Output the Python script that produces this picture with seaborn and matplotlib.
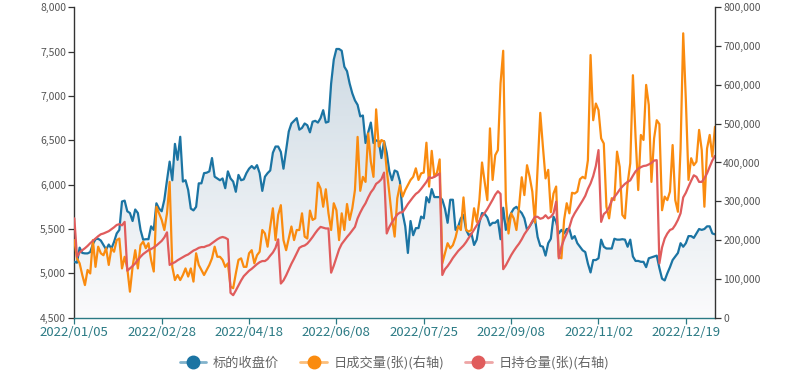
"""Underlying close price vs. daily volume and open interest, 2022."""

import matplotlib

matplotlib.use("Agg")
import matplotlib.pyplot as plt
import numpy as np
import pandas as pd
import seaborn as sns
from matplotlib.colors import LinearSegmentedColormap, to_rgb
from matplotlib.lines import Line2D
from matplotlib.ticker import FuncFormatter


# exchange holidays (weekdays with no trading)
HOLIDAYS = [
    "2022-01-31", "2022-02-01", "2022-02-02", "2022-02-03", "2022-02-04",
    "2022-04-04", "2022-04-05", "2022-05-02", "2022-05-03", "2022-05-04",
    "2022-06-03", "2022-09-12", "2022-10-03", "2022-10-04", "2022-10-05",
    "2022-10-06", "2022-10-07", "2023-01-02",
]

CLOSE = [
    5130, 5120, 5290, 5230, 5225, 5225, 5240, 5330, 5385, 5390,
    5370, 5320, 5270, 5325, 5280, 5355, 5450, 5490, 5810, 5820,
    5700, 5680, 5590, 5720, 5680, 5490, 5380, 5385, 5385, 5530,
    5490, 5790, 5730, 5700, 5830, 6050, 6260, 6050, 6460, 6280,
    6540, 6035, 6050, 5940, 5730, 5710, 5750, 6015, 6015, 6130,
    6135, 6150, 6300, 6090, 6070, 6050, 6070, 5960, 6150, 6070,
    6035, 5920, 6110, 6050, 6060, 6130, 6180, 6210, 6180, 6220,
    6130, 5930, 6090, 6130, 6160, 6360, 6430, 6430, 6370, 6180,
    6390, 6600, 6690, 6720, 6750, 6620, 6640, 6690, 6670, 6590,
    6710, 6720, 6700, 6750, 6840, 6700, 6710, 7140, 7410, 7530,
    7530, 7510, 7330, 7280, 7140, 7030, 6950, 6900, 6770, 6780,
    6470, 6590, 6700, 6470, 6500, 6490, 6300, 6490, 6360, 6150,
    6050, 6160, 6145, 6035, 5680, 5530, 5230, 5590, 5430, 5510,
    5510, 5640, 5620, 5860, 5800, 5950, 5860, 5860, 5860, 5830,
    5730, 5570, 5830, 5830, 5490, 5530, 5620, 5660, 5490, 5430,
    5450, 5320, 5380, 5570, 5680, 5670, 5630, 5540, 5570, 5570,
    5600, 5385, 5740, 5490, 5600, 5680, 5730, 5750, 5710, 5680,
    5620, 5490, 5530, 5580, 5620, 5410, 5310, 5300, 5200, 5340,
    5390, 5640, 5580, 5450, 5490, 5450, 5500, 5500, 5390, 5420,
    5340, 5300, 5260, 5240, 5110, 5010, 5150, 5150, 5170, 5380,
    5300, 5280, 5280, 5280, 5390, 5380, 5380, 5385, 5380, 5300,
    5380, 5190, 5140, 5140, 5130, 5130, 5070, 5170, 5180, 5190,
    5200, 5060, 4940, 4920, 5000, 5070, 5150, 5190, 5230, 5340,
    5300, 5340, 5420, 5420, 5400, 5450, 5500, 5490, 5500, 5530,
    5530, 5450, 5440,
]

# thousands of contracts
VOLUME_K = [
    200, 153, 140, 110, 84, 123, 114, 200, 131, 183,
    166, 161, 179, 136, 179, 170, 200, 204, 127, 157,
    127, 67, 131, 174, 127, 187, 196, 179, 192, 149,
    119, 286, 269, 252, 226, 269, 350, 131, 97, 110,
    97, 110, 127, 106, 127, 93, 166, 136, 123, 110,
    123, 136, 153, 183, 157, 157, 149, 131, 140, 80,
    76, 114, 149, 153, 131, 131, 166, 174, 140, 161,
    170, 226, 217, 183, 235, 282, 200, 265, 290, 200,
    174, 204, 235, 200, 226, 226, 269, 209, 204, 276,
    252, 256, 348, 333, 286, 331, 269, 226, 295, 277,
    200, 269, 226, 293, 252, 282, 329, 466, 327, 363,
    350, 475, 402, 363, 537, 441, 458, 454, 381, 320,
    256, 209, 308, 342, 312, 329, 342, 355, 363, 385,
    355, 372, 374, 451, 338, 430, 363, 374, 408, 140,
    166, 192, 179, 187, 207, 236, 226, 310, 226, 222,
    226, 282, 247, 303, 400, 350, 303, 488, 355, 419,
    432, 604, 688, 303, 217, 269, 256, 226, 286, 362,
    316, 393, 363, 325, 245, 389, 528, 441, 359, 381,
    272, 320, 338, 157, 153, 252, 295, 269, 322, 320,
    325, 357, 363, 359, 406, 677, 509, 552, 535, 462,
    449, 286, 256, 308, 303, 428, 389, 265, 256, 346,
    398, 625, 466, 329, 471, 458, 600, 548, 350, 462,
    509, 499, 277, 312, 303, 325, 445, 303, 273, 436,
    733, 561, 355, 411, 393, 402, 484, 432, 286, 436,
    471, 415, 492,
]

OPEN_INT_K = [
    256, 157, 168, 174, 179, 185, 192, 198, 204, 210,
    215, 217, 220, 223, 228, 233, 239, 241, 238, 247,
    121, 127, 133, 140, 149, 157, 164, 169, 174, 177,
    181, 186, 192, 198, 207, 220, 136, 140, 143, 148,
    152, 156, 160, 163, 168, 173, 176, 180, 182, 182,
    185, 187, 192, 197, 202, 206, 208, 206, 202, 64,
    58, 70, 83, 96, 107, 114, 121, 126, 132, 138,
    143, 146, 146, 151, 160, 168, 180, 202, 88, 96,
    109, 124, 139, 152, 166, 180, 184, 186, 191, 199,
    208, 218, 227, 234, 232, 230, 230, 116, 134, 155,
    176, 190, 199, 208, 216, 225, 234, 256, 271, 284,
    295, 310, 323, 332, 345, 350, 357, 374, 217, 234,
    246, 256, 266, 271, 272, 282, 293, 302, 311, 319,
    324, 332, 341, 350, 362, 360, 363, 367, 372, 110,
    125, 133, 143, 154, 163, 172, 179, 186, 195, 206,
    216, 227, 238, 250, 262, 270, 280, 292, 304, 317,
    326, 319, 125, 135, 148, 161, 172, 182, 191, 202,
    215, 225, 236, 249, 260, 260, 255, 257, 264, 256,
    260, 269, 299, 153, 183, 202, 217, 233, 256, 269,
    280, 291, 302, 314, 332, 346, 365, 391, 432, 247,
    267, 273, 284, 302, 311, 320, 330, 338, 345, 350,
    354, 366, 377, 384, 388, 391, 392, 395, 399, 405,
    406, 140, 181, 204, 217, 226, 229, 239, 252, 269,
    310, 322, 338, 353, 367, 363, 350, 350, 359, 372,
    389, 405, 417,
]

SERIES_NAMES = ["标的收盘价", "日成交量(张)(右轴)", "日持仓量(张)(右轴)"]
COLORS = ["#1b74a3", "#fa8b0f", "#e05c5c"]
AXIS_TEAL = "#2b7a84"


def lighten(color, amount=0.5):
    r, g, b = to_rgb(color)
    return (r + (1 - r) * amount, g + (1 - g) * amount, b + (1 - b) * amount)


def build_frame() -> pd.DataFrame:
    dates = pd.bdate_range("2022-01-05", "2023-01-04", freq="C", holidays=HOLIDAYS)
    return pd.DataFrame({
        "idx": np.arange(len(dates)),
        "date": dates.strftime("%Y/%m/%d"),
        "close": CLOSE,
        "volume": np.array(VOLUME_K) * 1000,
        "open_interest": np.array(OPEN_INT_K) * 1000,
    })


def main() -> None:
    data = build_frame()
    last = data["idx"].iloc[-1]

    sns.set_theme(style="white")
    plt.rcParams["font.family"] = ["Noto Sans CJK SC", "DejaVu Sans"]

    fig = plt.figure(figsize=(7.85, 3.71), dpi=100)
    ax = fig.add_axes([0.0947, 0.1437, 0.8161, 0.8366])
    ax2 = ax.twinx()

    # gradient area under the close price
    area = ax.fill_between(data["idx"], data["close"], 4500, facecolor="none", edgecolor="none")
    cmap = LinearSegmentedColormap.from_list("area", ["#fbfbfc", "#cfdbe4"])
    grad = np.linspace(0, 1, 256).reshape(-1, 1)
    img = ax.imshow(grad, extent=[0, last, 4500, data["close"].max()], origin="lower",
                    aspect="auto", cmap=cmap, zorder=0)
    img.set_clip_path(area.get_paths()[0], transform=ax.transData)

    sns.lineplot(data=data, x="idx", y="close", ax=ax, color=COLORS[0], lw=1.6, zorder=3)
    sns.lineplot(data=data, x="idx", y="volume", ax=ax2, color=COLORS[1], lw=1.6)
    sns.lineplot(data=data, x="idx", y="open_interest", ax=ax2, color=COLORS[2], lw=1.6)

    ax.set_xlim(0, last)
    ax.set_ylim(4500, 8000)
    ax2.set_ylim(0, 800000)

    tick_pos = list(range(0, last + 1, 33))
    ax.set_xticks(tick_pos)
    ax.set_xticklabels(data["date"].iloc[tick_pos])
    ax.set_yticks(range(4500, 8001, 500))
    ax2.set_yticks(range(0, 800001, 100000))
    thousands = FuncFormatter(lambda v, _: f"{v:,.0f}")
    ax.yaxis.set_major_formatter(thousands)
    ax2.yaxis.set_major_formatter(thousands)

    for axis in (ax, ax2):
        axis.set_xlabel("")
        axis.set_ylabel("")
        axis.grid(False)
        axis.spines["top"].set_visible(False)
    ax.spines["right"].set_visible(False)
    ax2.spines["left"].set_visible(False)
    ax2.spines["bottom"].set_visible(False)
    ax.spines["left"].set_color("#333333")
    ax2.spines["right"].set_color("#333333")
    ax.spines["bottom"].set_color(AXIS_TEAL)
    for spine in (ax.spines["left"], ax2.spines["right"], ax.spines["bottom"]):
        spine.set_linewidth(1.0)

    ax.tick_params(axis="x", bottom=True, direction="out", length=4, width=0.9,
                   color=AXIS_TEAL, labelcolor=AXIS_TEAL, labelsize=9.5, pad=2)
    ax.tick_params(axis="y", left=True, direction="out", length=4, width=0.9,
                   color="#333333", labelcolor="#555555", labelsize=7.5, pad=2)
    ax2.tick_params(axis="y", right=True, direction="out", length=4, width=0.9,
                    color="#333333", labelcolor="#555555", labelsize=7.5, pad=2)

    handles = []
    for color in COLORS:
        line = Line2D([], [], color=lighten(color, 0.45), lw=2.0)
        dot = Line2D([], [], linestyle="none", marker="o", markersize=9,
                     markerfacecolor=color, markeredgecolor=color)
        handles.append((line, dot))
    fig.legend(handles, SERIES_NAMES, loc="center", bbox_to_anchor=(0.5025, 0.022),
               ncol=3, frameon=False, fontsize=9.5, handlelength=2.0,
               handletextpad=0.5, columnspacing=1.6, labelcolor="#666666")

    fig.savefig("out.png", dpi=100)
    plt.close(fig)


if __name__ == "__main__":
    main()
